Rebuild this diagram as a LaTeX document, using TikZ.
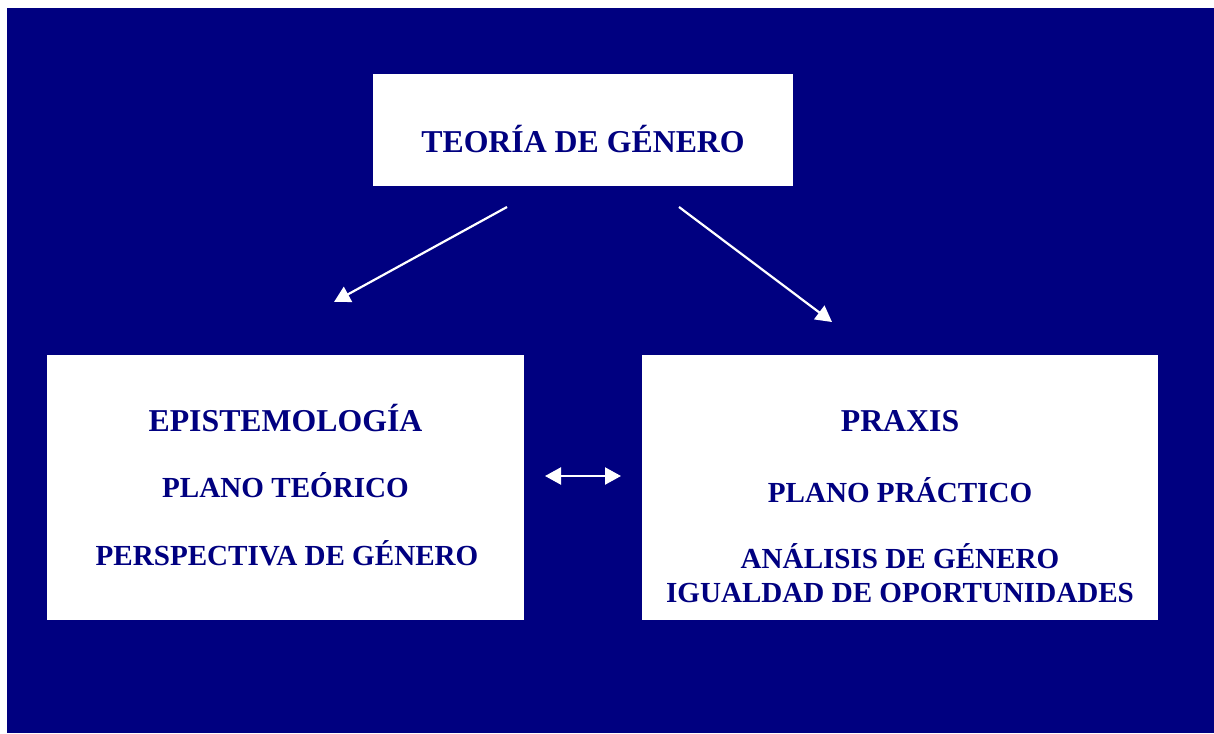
\documentclass[tikz,border=0pt]{standalone}
\usepackage{fontspec}
\setmainfont{Liberation Serif}
\usetikzlibrary{arrows.meta}
\definecolor{navybg}{HTML}{000080}
\begin{document}
\begin{tikzpicture}[x=1pt,y=-1pt,
  box/.style={fill=white,draw=none,inner sep=0pt,anchor=north west},
  big/.style={text=navybg,font=\fontsize{31.8}{36}\selectfont\bfseries,anchor=base,inner sep=0pt},
  small/.style={text=navybg,font=\fontsize{29.1}{33}\selectfont\bfseries,anchor=base,inner sep=0pt},
  arr/.style={draw=white,line width=2.2pt,-{Triangle[length=16pt,width=17pt]}},
  darr/.style={draw=white,line width=2.2pt,{Triangle[length=16pt,width=17pt]}-{Triangle[length=16pt,width=17pt]}}]
\useasboundingbox (0,0) rectangle (1214,733);
\fill[navybg] (7,8) rectangle (1214,733);
\node[box,minimum width=420pt,minimum height=112pt] (top) at (373,74) {};
\node[box,minimum width=477pt,minimum height=265pt] (left) at (47,355) {};
\node[box,minimum width=516pt,minimum height=265pt] (right) at (642,355) {};
\node[big] (t1) at (583,152) {TEORÍA DE GÉNERO};
\node[big] (l1) at (285.5,431) {EPISTEMOLOGÍA};
\node[small] (l2) at (285.5,497) {PLANO TEÓRICO};
\node[small] (l3) at (287,565) {PERSPECTIVA DE GÉNERO};
\node[big] (r1) at (900,431) {PRAXIS};
\node[small] (r2) at (900,502) {PLANO PRÁCTICO};
\node[small] (r3) at (900,568) {ANÁLISIS DE GÉNERO};
\node[small] (r4) at (900,602) {IGUALDAD DE OPORTUNIDADES};
\coordinate (a1s) at (507,207);
\coordinate (a1e) at (334,302);
\coordinate (a2s) at (679,207);
\coordinate (a2e) at (832,322);
\coordinate (d1) at (545,476);
\coordinate (d2) at (621,476);
\draw[arr] (a1s) -- (a1e);
\draw[arr] (a2s) -- (a2e);
\draw[darr] (d1) -- (d2);
\end{tikzpicture}
\end{document}
